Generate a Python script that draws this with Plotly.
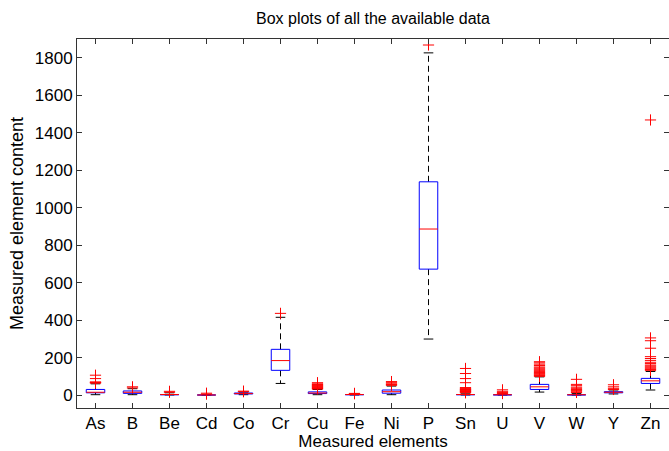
import plotly.graph_objects as go

elements = ["As", "B", "Be", "Cd", "Co", "Cr", "Cu", "Fe", "Ni", "P", "Sn", "U", "V", "W", "Y", "Zn"]
q1 = [12, 9, 2, 0.3, 6, 132, 8, 2, 10, 672, 2, 1, 30, 1, 12, 62]
med = [15, 15, 3, 0.5, 8, 184, 11, 3, 18, 886, 3, 2, 44, 2, 15, 76]
q3 = [30, 22, 6, 1, 11, 244, 17, 4, 27, 1138, 5, 3, 57, 4, 18, 89]
lower = [2, 2, 0.5, 0.1, 2, 62, 2, 0.5, 2, 299, 0.5, 0.2, 16, 0.3, 6, 27]
upper = [60, 34, 12, 2, 16, 415, 30, 6, 48, 1826, 10, 6, 97, 9, 27, 126]
outliers = [
    [64, 66, 68, 70, 88, 106],
    [38, 44],
    [15, 20],
    [5, 10],
    [18, 21],
    [436],
    [32, 35, 38, 41, 44, 47, 50, 53, 56, 60, 66],
    [7, 9],
    [52, 56, 60, 66, 72],
    [1868],
    [12, 15, 18, 20, 22, 25, 28, 30, 33, 36, 40, 66, 88, 115, 142],
    [8, 14, 20, 28],
    [100, 104, 108, 112, 116, 120, 125, 130, 135, 140, 145, 150, 158, 165, 172, 178],
    [14, 20, 25, 30, 36, 42, 50, 57, 84],
    [30, 36, 44, 55],
    [132, 136, 140, 145, 150, 155, 160, 168, 175, 185, 195, 205, 250, 290, 305, 1468],
]

BW = 0.25
CW = 0.13
bx, by, mx, my, wx, wy, cx, cy, ox, oy = [], [], [], [], [], [], [], [], [], []
for i, name in enumerate(elements):
    x = i + 1
    bx += [x - BW, x + BW, x + BW, x - BW, x - BW, None]
    by += [q1[i], q1[i], q3[i], q3[i], q1[i], None]
    mx += [x - BW, x + BW, None]
    my += [med[i], med[i], None]
    wx += [x, x, None, x, x, None]
    wy += [q3[i], upper[i], None, q1[i], lower[i], None]
    cx += [x - CW, x + CW, None, x - CW, x + CW, None]
    cy += [upper[i], upper[i], None, lower[i], lower[i], None]
    ox += [x] * len(outliers[i])
    oy += outliers[i]

fig = go.Figure()
fig.add_trace(go.Scatter(x=wx, y=wy, mode="lines", line=dict(color="black", width=1, dash="6px,4px"), hoverinfo="skip"))
fig.add_trace(go.Scatter(x=cx, y=cy, mode="lines", line=dict(color="black", width=1), hoverinfo="skip"))
fig.add_trace(go.Scatter(x=bx, y=by, mode="lines", line=dict(color="blue", width=1), hoverinfo="skip"))
fig.add_trace(go.Scatter(x=mx, y=my, mode="lines", line=dict(color="red", width=1), hoverinfo="skip"))
fig.add_trace(go.Scatter(x=ox, y=oy, mode="markers",
                         marker=dict(symbol="cross-thin", size=8, line=dict(color="red", width=1)),
                         hoverinfo="skip"))

font = "Liberation Sans, Arial, sans-serif"
fig.update_layout(
    width=669, height=451,
    margin=dict(l=77, r=0, t=39, b=43),
    paper_bgcolor="white", plot_bgcolor="white",
    showlegend=False,
    font=dict(family=font, size=17, color="black"),
    title=dict(text="Box plots of all the available data", x=0.5575, xanchor="center",
               y=0.96, yanchor="middle", font=dict(size=16)),
    xaxis=dict(range=[0.5, 16.5], tickmode="array", tickvals=list(range(1, 17)), ticktext=elements,
               ticks="inside", ticklen=5, tickcolor="#333", showline=True, linecolor="#333", mirror="ticks",
               showgrid=False, zeroline=False, tickfont=dict(size=17),
               title=dict(text="Measured elements", standoff=7, font=dict(size=17))),
    yaxis=dict(range=[-69, 1900], tickmode="array", tickvals=list(range(0, 1801, 200)),
               ticks="inside", ticklen=5, tickcolor="#333", showline=True, linecolor="#333", mirror="ticks",
               showgrid=False, zeroline=False, tickfont=dict(size=17),
               title=dict(text="Measured element content", standoff=6, font=dict(size=18))),
)
fig.write_html("out.html")
